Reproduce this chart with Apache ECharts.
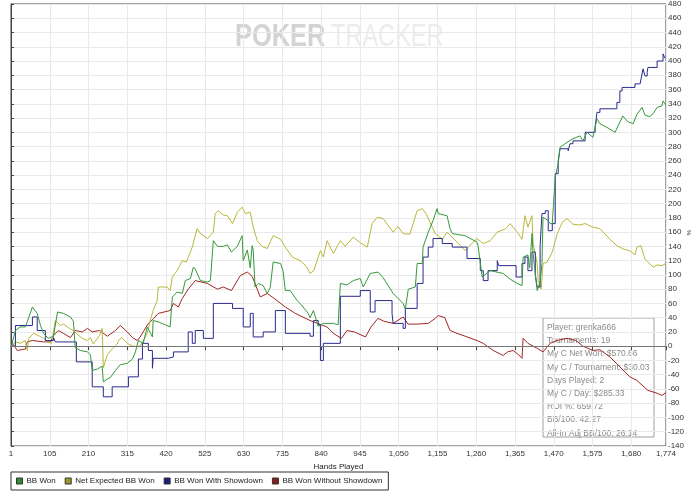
<!DOCTYPE html>
<html>
<head>
<meta charset="utf-8">
<script src="https://cdn.jsdelivr.net/npm/echarts@6/dist/echarts.min.js"></script>
<style>
  html, body { margin: 0; padding: 0; background: #fff; }
  #chart { width: 700px; height: 499px; }
</style>
</head>
<body>
<div id="chart"></div>
<script>
// [hand, BB] pairs
const bbWon = [[1,0],[12,22],[25,27],[39,27],[58,55],[61,56],[71,46],[80,29],[88,18],[101,11],[115,14],[126,48],[142,46],[161,41],[169,35],[174,-2],[188,-6],[207,-8],[215,-12],[220,-34],[234,-32],[247,-28],[250,-50],[261,-46],[269,-44],[283,-34],[296,-26],[315,-24],[329,-18],[337,-8],[345,8],[358,4],[369,27],[383,13],[385,36],[399,34],[418,30],[431,27],[437,69],[450,76],[464,74],[472,92],[486,95],[494,111],[499,108],[513,92],[532,90],[540,92],[548,148],[559,140],[575,140],[586,142],[597,132],[613,140],[626,155],[629,120],[640,135],[648,110],[653,141],[656,135],[661,83],[670,88],[683,85],[694,74],[702,82],[710,118],[730,116],[737,105],[743,78],[756,78],[775,64],[783,60],[805,46],[810,40],[819,50],[832,28],[846,32],[873,32],[886,30],[892,88],[910,86],[927,92],[946,95],[954,83],[973,102],[994,104],[1008,96],[1035,74],[1062,60],[1068,52],[1076,80],[1095,83],[1100,116],[1114,116],[1116,139],[1130,160],[1143,176],[1154,193],[1157,186],[1181,183],[1189,165],[1195,158],[1230,155],[1262,146],[1265,141],[1276,97],[1298,106],[1333,102],[1352,94],[1371,88],[1384,85],[1387,125],[1400,128],[1405,110],[1411,158],[1414,130],[1425,78],[1433,90],[1438,116],[1441,181],[1455,176],[1460,172],[1466,172],[1474,237],[1482,256],[1487,279],[1506,286],[1522,291],[1541,295],[1549,288],[1560,300],[1576,293],[1587,319],[1595,312],[1614,307],[1636,300],[1645,310],[1657,323],[1670,315],[1685,312],[1695,325],[1709,335],[1717,324],[1730,322],[1739,326],[1750,335],[1763,337],[1766,344],[1774,338]];

const netExpected = [[1,0],[12,6],[25,4],[39,8],[44,-6],[48,11],[61,18],[74,15],[88,11],[98,6],[110,4],[120,36],[134,29],[142,31],[161,24],[169,22],[177,18],[193,11],[207,8],[215,12],[223,3],[240,15],[247,25],[250,-30],[261,-12],[274,-4],[288,3],[291,8],[300,12],[315,4],[329,0],[350,0],[356,6],[369,18],[377,36],[385,50],[396,64],[399,83],[423,83],[431,78],[437,97],[450,106],[464,120],[475,118],[491,139],[504,165],[513,158],[532,151],[548,160],[553,186],[561,190],[575,184],[586,183],[600,172],[613,188],[626,195],[635,186],[648,188],[653,188],[656,167],[667,148],[680,140],[694,137],[710,155],[730,150],[743,139],[762,125],[783,120],[800,112],[810,102],[820,106],[838,134],[846,125],[856,148],[873,130],[892,148],[905,140],[927,153],[946,145],[965,139],[978,172],[992,181],[1008,179],[1035,160],[1048,168],[1062,158],[1080,157],[1100,190],[1114,193],[1125,185],[1140,168],[1149,158],[1168,150],[1181,160],[1208,146],[1230,134],[1250,145],[1262,151],[1279,144],[1298,148],[1317,160],[1340,165],[1352,172],[1371,160],[1384,150],[1392,183],[1400,167],[1411,183],[1414,144],[1425,116],[1428,92],[1436,80],[1441,116],[1452,118],[1466,132],[1479,157],[1493,174],[1506,179],[1522,171],[1541,170],[1555,172],[1575,167],[1595,165],[1604,160],[1622,150],[1641,141],[1660,136],[1676,134],[1690,128],[1695,139],[1706,141],[1717,122],[1725,118],[1739,111],[1750,114],[1763,113],[1774,116]];

// step levels: [hand where level starts, BB]
const withShowdown = [[1,0],[12,29],[58,41],[71,22],[93,8],[115,12],[120,6],[177,-22],[220,-57],[250,-71],[274,-57],[318,-43],[345,-18],[356,4],[372,-6],[383,-31],[385,-17],[426,-15],[440,-8],[480,20],[491,4],[499,22],[521,11],[548,60],[600,53],[629,27],[648,46],[656,13],[683,20],[716,50],[743,18],[810,14],[819,36],[832,30],[838,-20],[846,4],[892,70],[946,78],[973,48],[986,64],[1032,46],[1035,32],[1062,25],[1068,53],[1100,88],[1116,125],[1130,139],[1143,151],[1168,144],[1195,139],[1235,123],[1271,106],[1279,92],[1292,106],[1317,120],[1321,113],[1368,97],[1384,116],[1392,125],[1400,106],[1411,132],[1420,100],[1425,83],[1433,140],[1438,186],[1447,190],[1455,162],[1466,172],[1474,242],[1482,260],[1487,277],[1509,274],[1514,284],[1522,288],[1555,300],[1582,307],[1587,328],[1595,333],[1641,342],[1649,358],[1655,363],[1690,368],[1704,370],[1709,382],[1712,389],[1717,379],[1723,384],[1725,391],[1750,400],[1766,410],[1771,404]];

const withoutShowdown = [[1,0],[4,4],[17,-6],[39,-4],[44,6],[58,8],[88,6],[107,6],[115,15],[128,22],[142,18],[161,12],[174,22],[193,20],[207,25],[220,20],[240,22],[261,14],[283,22],[296,29],[315,20],[329,12],[342,8],[350,13],[358,20],[372,32],[385,38],[399,46],[431,50],[440,60],[453,55],[464,67],[480,80],[499,92],[532,88],[559,80],[575,83],[597,78],[621,99],[640,104],[653,98],[661,88],[675,69],[694,74],[710,68],[743,55],[770,46],[810,36],[840,30],[856,27],[873,18],[895,11],[910,22],[930,20],[960,13],[975,27],[994,39],[1010,35],[1035,32],[1062,41],[1075,31],[1100,31],[1130,32],[1149,39],[1157,43],[1175,40],[1189,22],[1208,18],[1230,14],[1262,8],[1279,4],[1306,-6],[1333,-13],[1345,-8],[1360,-6],[1375,-12],[1384,-17],[1387,11],[1400,4],[1425,-3],[1441,-8],[1460,4],[1479,8],[1506,11],[1530,8],[1549,0],[1576,-6],[1595,-5],[1622,-15],[1649,-29],[1676,-43],[1695,-48],[1725,-62],[1750,-66],[1763,-69],[1774,-65]];

const seriesNames = ['BB Won', 'Net Expected BB Won', 'BB Won With Showdown', 'BB Won Without Showdown'];
const statLines = [
  'Player: grenka666',
  'Tournaments: 19',
  'My C Net Won: $570.66',
  'My C / Tournament: $30.03',
  'Days Played: 2',
  'My C / Day: $285.33',
  'ROI %: 659.72',
  'BB/100: 42.27',
  'All-In Adj BB/100: 26.14'
];

const font = 'Liberation Sans, Arial, sans-serif';
const chart = echarts.init(document.getElementById('chart'));

chart.setOption({
  animation: false,
  backgroundColor: '#fff',
  grid: {
    left: 11, right: 34, top: 4, bottom: 53,
    outerBoundsMode: 'none',
    containLabel: false,
    show: true, borderColor: '#444', borderWidth: 1
  },
  legend: {
    left: 11, top: 472,
    data: [
      { name: seriesNames[0], itemStyle: { color: '#2f8f2f', borderColor: '#333', borderWidth: 1 } },
      { name: seriesNames[1], itemStyle: { color: '#9a9a28', borderColor: '#333', borderWidth: 1 } },
      { name: seriesNames[2], itemStyle: { color: '#1c1c80', borderColor: '#333', borderWidth: 1 } },
      { name: seriesNames[3], itemStyle: { color: '#8a1c1c', borderColor: '#333', borderWidth: 1 } }
    ],
    icon: 'rect',
    itemWidth: 6, itemHeight: 6, itemGap: 9,
    padding: [5, 6, 5, 5],
    borderColor: '#333', borderWidth: 1,
    textStyle: { fontFamily: font, fontSize: 8, color: '#222', padding: [0, 0, 0, -1] }
  },
  xAxis: {
    type: 'value',
    min: 0, max: 1774, interval: 105,
    name: 'Hands Played',
    nameLocation: 'middle',
    nameGap: 16,
    nameTextStyle: { fontFamily: font, fontSize: 8, color: '#222' },
    axisLine: { lineStyle: { color: '#444' } },
    axisTick: { length: 4, lineStyle: { color: '#444' } },
    axisLabel: {
      fontFamily: font, fontSize: 8, color: '#333', margin: 4,
      showMaxLabel: true,
      formatter: v => v === 0 ? '1' : v.toLocaleString('en-US')
    },
    splitLine: { show: true, lineStyle: { color: '#e9e9e9' } }
  },
  yAxis: {
    type: 'value',
    position: 'right',
    min: -140, max: 480, interval: 20,
    axisLine: { show: true, lineStyle: { color: '#444' } },
    axisTick: { show: true, length: 3, lineStyle: { color: '#444' } },
    axisLabel: { fontFamily: font, fontSize: 8, color: '#333', margin: 2 },
    splitLine: { show: true, lineStyle: { color: '#e9e9e9' } }
  },
  graphic: [
    {
      type: 'text', x: 235, y: 22, z: 0, silent: true, scaleX: 0.82,
      style: { text: 'POKER', fill: '#d3d3d3', font: 'bold 31px ' + font }
    },
    {
      type: 'text', x: 331, y: 22, z: 0, silent: true, scaleX: 0.76,
      style: { text: 'TRACKER', fill: '#ececec', font: '31px ' + font }
    },
    {
      type: 'text', x: 692, y: 230, rotation: -Math.PI / 2, silent: true,
      style: { text: '%', fill: '#333', font: '6px ' + font }
    },
    {
      type: 'group', x: 543, y: 318, z: 100,
      children: [
        {
          type: 'rect',
          shape: { x: 0, y: 0, width: 111, height: 119 },
          style: { fill: 'rgba(255,255,255,0.55)', stroke: '#a0a0a0', lineWidth: 1 }
        },
        {
          type: 'text', x: 4, y: 3,
          style: {
            text: statLines.join('\n'),
            fill: '#8a8a8a',
            font: '8.5px ' + font,
            lineHeight: 13.2
          }
        }
      ]
    }
  ],
  series: [
    {
      name: seriesNames[3], type: 'line', data: withoutShowdown,
      symbol: 'none', color: '#a32626', lineStyle: { width: 1 },
      markLine: {
        silent: true, symbol: 'none', label: { show: false },
        lineStyle: { color: '#777', width: 1.2, type: 'solid' },
        data: [{ yAxis: 0 }]
      }
    },
    {
      name: seriesNames[1], type: 'line', data: netExpected,
      symbol: 'none', color: '#b8b83a', lineStyle: { width: 1 }
    },
    {
      name: seriesNames[2], type: 'line', data: withShowdown, step: 'end',
      symbol: 'none', color: '#2a2a8c', lineStyle: { width: 1 }
    },
    {
      name: seriesNames[0], type: 'line', data: bbWon,
      symbol: 'none', color: '#33993a', lineStyle: { width: 1 }
    }
  ]
});
</script>
</body>
</html>
